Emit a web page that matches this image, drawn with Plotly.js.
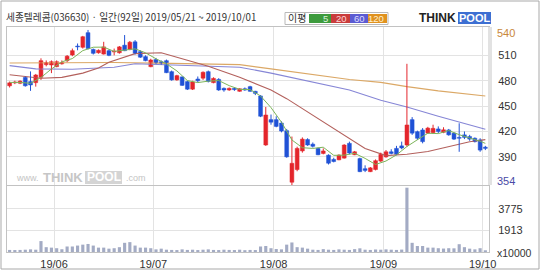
<!DOCTYPE html>
<html><head><meta charset="utf-8">
<script src="https://cdn.plot.ly/plotly-3.0.1.min.js"></script>
<style>html,body{margin:0;padding:0;background:#fff;overflow:hidden}#chart{width:540px;height:270px}</style>
</head><body><div id="chart"></div>
<script>
const titleText = '세종텔레콤(036630) · 일간(92일) 2019/05/21 ~ 2019/10/01';
const monthLabels = ['19/06','19/07','19/08','19/09','19/10'];
const monthStartIdx = [9, 28, 51, 72, 91];
const priceTicks = [390, 420, 450, 480, 510];
const volTicks = [1913, 3775];
const maxPrice = 540, minPrice = 354;
const legendLabels = ['5','20','60','120'];

const openP = [474,477.5,477,484,479,477.7,484,499,498.6,496.6,
500,503.7,510.4,521,519.5,536.8,517,513,511.5,515.5,
514,513,522,517,526,514.4,508.5,496.6,505,502.5,
503.7,490.7,481,484.5,479,470,482,483,490.7,477.7,
481.5,471,469,471,467.5,470.5,473,467.5,462,404,
434,434,430,421,360,375,397,410.5,405,400,
394,392,387,386.5,388.5,406,392.5,388,376,372.5,
375,385,390,396,400,403,404,434,419.8,421.8,
418,418.6,423,419,421.8,418,413,416,414,412,
410,401.5];
const closeP = [477.5,478.5,479.5,474,475,486.8,503.7,501.4,502.5,502.5,
501.5,509,515.5,520,532,518,512.4,516,520,510,
515,520,515.5,525.5,512.4,507.8,503.7,504.5,501,500.6,
489.5,481,486,474.5,470,478.5,480,490,479,482.8,
469,469,471,469.5,470.5,469,467.5,465,438,439.5,
431,426,420.5,390,382.4,400,411,404,402.5,392.5,
397,382.5,384.5,392,404,394.5,396,372.5,374,377,
385.5,393,396,394,393,400.5,427.7,418,412,408,
424,423.7,420,422,416,411,412,413,411,408,
398,400];
const highP = [479,480,480.5,485,491,488,506.5,504,504,504,
504,510.4,518,524,533,540,518,517,526,517,
518,521,534,527,528,516,510,506,507,504,
505,492,487,485,480,480,485,491,492,484,
483,472,472,472,471,472,474,468,463,449,
440,438,432,423,414,402,413,412,407,401,
400,393,389,393,405,408,397,389,380,378,
387,395,398,399,403,408,500,437,421,424,
425.5,428,426,425,423,419,429.7,420,416,413,
412,403];
const lowP = [472,476,476,473,468,473,481,497,489,496,
499,502,509,516,518,517,511,512,511,509,
510,512,515,516,511,507,503,496,500,499,
489,480,480,474,469,469,478,481,478,477,
468,467,468,468,467,468,467,463,437,403,
428,425,419,389,354,373,395,403,401,392,
393,381,383.5,386,388,393,392,372,372,372,
374,384,389,393,392,399,402,416,410,406,
417,417,418,418,415,410,396,411,409,407,
396,398];
const volume = [180,170,180,200,230,200,950,420,380,330,
240,480,480,560,640,700,560,380,380,290,
330,420,800,860,560,380,380,330,230,290,
200,180,170,230,180,200,170,200,230,180,
170,200,180,170,200,160,180,170,480,520,
330,260,230,640,830,420,380,290,200,180,
250,200,180,230,200,180,250,320,200,180,
220,200,230,200,180,210,5600,800,520,520,
380,380,330,300,330,320,680,420,290,230,
330,150];

const ma5Idx = [0,2,4,6,8,10,12,14,16,18,20,22,24,26,28,30,32,34,36,38,40,42,44,46,48,50,52,54,56,58,60,62,64,66,68,70,72,74,76,78,80,82,84,86,88,90,91];
const ma5Val = [478,478,476.9,483.8,493.9,502.3,506.2,515.6,519.6,519.7,514.7,516.1,517.7,513,505.9,499.9,491.6,480.2,477.8,479.5,480.2,474.2,469.8,469.5,462,448.2,431,410,400.8,400,401.4,391.8,392,394.2,388.2,381,385.1,392.3,402.2,410.2,417.9,417.5,421.1,416.2,412.6,408.4,406];
const ma20Idx = [0,6,10,14,17,19,24,29,34,38,44,50,53,56,60,64,68,72,76,80,84,88,91];
const ma20Val = [487,483,484,489,495,501.8,512,513,504.2,497.2,484,469,458.8,447,430.8,415,399.8,391.5,393.1,396.4,402.4,407.9,410.4];
const ma60Idx = [0,5,12,20,24,30,37,44,50,56,65,71,76,82,88,91];
const ma60Val = [497.8,494,493.5,496,500,499,498,496,489,481,469,457,449,438,428,422.6];
const ma120Idx = [0,10,20,31,37,44,50,56,65,71,76,82,91];
const ma120Val = [501,501.5,501.5,500.5,500,499,494,489,481.5,478,473,468,462];

const idx = openP.map((_, i) => i);

// split candles into rising / falling sets (built from the data arrays)
const UP = '#e4262c', DOWN = '#2052d6';
function candleSet(isUp) {
  const xs = [], base = [], h = [], wx = [], wy = [];
  idx.forEach(i => {
    const up = closeP[i] >= openP[i];
    if (up !== isUp) return;
    xs.push(i);
    base.push(Math.min(openP[i], closeP[i]));
    h.push(Math.abs(closeP[i] - openP[i]));
    wx.push(i, i, null);
    wy.push(lowP[i], highP[i], null);
  });
  return {xs, base, h, wx, wy};
}
const upSet = candleSet(true), downSet = candleSet(false);

// pixel helpers (layout only)
const L = 7, R = 489, T = 27, B = 252;
const px = x => (x - L) / (R - L);
const py = y => (B - y) / (B - T);

const FONT = 'Liberation Sans, Arial, sans-serif';
const KFONT = 'Noto Sans CJK KR, sans-serif';

const traces = [
  {type:'scatter', mode:'lines', x: ma120Idx, y: ma120Val, xaxis:'x', yaxis:'y', line:{color:'#dba866', width:1.1}, hoverinfo:'skip'},
  {type:'scatter', mode:'lines', x: ma60Idx, y: ma60Val, xaxis:'x', yaxis:'y', line:{color:'#8686d6', width:1.1}, hoverinfo:'skip'},
  {type:'scatter', mode:'lines', x: ma20Idx, y: ma20Val, xaxis:'x', yaxis:'y', line:{color:'#b3605c', width:1.1}, hoverinfo:'skip'},
  {type:'scatter', mode:'lines', x: upSet.wx, y: upSet.wy, xaxis:'x', yaxis:'y', line:{color:UP, width:1}, hoverinfo:'skip', connectgaps:false},
  {type:'scatter', mode:'lines', x: downSet.wx, y: downSet.wy, xaxis:'x', yaxis:'y', line:{color:DOWN, width:1}, hoverinfo:'skip', connectgaps:false},
  {type:'bar', x: upSet.xs, base: upSet.base, y: upSet.h, xaxis:'x', yaxis:'y', width:0.74,
   marker:{color:UP, line:{color:UP, width:0.5}}, hoverinfo:'skip'},
  {type:'bar', x: downSet.xs, base: downSet.base, y: downSet.h, xaxis:'x', yaxis:'y', width:0.74,
   marker:{color:DOWN, line:{color:DOWN, width:0.5}}, hoverinfo:'skip'},
  {type:'scatter', mode:'lines', x: ma5Idx, y: ma5Val, xaxis:'x', yaxis:'y', line:{color:'#7db55a', width:1}, hoverinfo:'skip'},
  {type:'bar', x: idx, y: volume, xaxis:'x2', yaxis:'y2', width:0.6, marker:{color:'#a3abc4', line:{width:0}}, hoverinfo:'skip'}
];

const grid = '#e3e3e3', border = '#c2c2c2';
const xr = [-0.5, 91.7];
const gridVals = monthStartIdx.map(i => i - 0.5);

const annotations = [
  {xref:'paper', yref:'paper', x:px(4), y:py(17), xanchor:'left', yanchor:'middle', showarrow:false,
   text:titleText, font:{family:KFONT, size:9.7, color:'#333'}},
  {xref:'paper', yref:'paper', x:px(297), y:py(18), xanchor:'center', yanchor:'middle', showarrow:false,
   text:'이평', font:{family:KFONT, size:10, color:'#333'}},
  {xref:'paper', yref:'paper', x:px(495), y:py(33), xanchor:'left', yanchor:'middle', showarrow:false,
   text:String(maxPrice), font:{family:FONT, size:11, color:'#c8873a'}},
  {xref:'paper', yref:'paper', x:px(495), y:py(181), xanchor:'left', yanchor:'middle', showarrow:false,
   text:String(minPrice), font:{family:FONT, size:11, color:'#4a4aa6'}},
  {xref:'paper', yref:'paper', x:px(495), y:py(253), xanchor:'left', yanchor:'middle', showarrow:false,
   text:'x10000', font:{family:FONT, size:10.5, color:'#333'}},
  // logo
  {xref:'paper', yref:'paper', x:px(458), y:py(18), xanchor:'right', yanchor:'middle', showarrow:false,
   text:'<b>THINK</b>', font:{family:FONT, size:12, color:'#222'}},
  {xref:'paper', yref:'paper', x:px(474), y:py(18), xanchor:'center', yanchor:'middle', showarrow:false,
   text:'<b>POOL</b>', font:{family:FONT, size:11, color:'#ffffff'}},
  // watermark
  {xref:'paper', yref:'paper', x:px(41), y:py(178), xanchor:'right', yanchor:'middle', showarrow:false,
   text:'www.', font:{family:FONT, size:9, color:'#c4c4c4'}},
  {xref:'paper', yref:'paper', x:px(85), y:py(177), xanchor:'right', yanchor:'middle', showarrow:false,
   text:'<b>THINK</b>', font:{family:FONT, size:13, color:'#c6c6c6'}},
  {xref:'paper', yref:'paper', x:px(104), y:py(177), xanchor:'center', yanchor:'middle', showarrow:false,
   text:'<b>POOL</b>', font:{family:FONT, size:12, color:'#ffffff'}},
  {xref:'paper', yref:'paper', x:px(124), y:py(178), xanchor:'left', yanchor:'middle', showarrow:false,
   text:'.com', font:{family:FONT, size:9, color:'#c4c4c4'}}
];

const legColors = ['#3d9b3d','#c93c3c','#5b5bd2','#e0921f'];
const legTxt = ['#d9f2d9','#ffd6d6','#dcdcff','#fff0d0'];
const legX = [[309,331],[331,350],[350,368],[368,387]];
const shapes = [
  {type:'rect', xref:'paper', yref:'paper', x0:px(1), x1:px(539), y0:py(1), y1:py(269), line:{color:'#a9a9a9', width:1}, layer:'below'},
  {type:'rect', xref:'paper', yref:'paper', x0:px(285), x1:px(388), y0:py(12.5), y1:py(24.5), line:{color:'#b8b8b8', width:1}, fillcolor:'#ffffff'},
  {type:'rect', xref:'paper', yref:'paper', x0:px(458), x1:px(491), y0:py(12), y1:py(24), line:{width:0}, fillcolor:'#3d6fd2'},
  {type:'rect', xref:'paper', yref:'paper', x0:px(85), x1:px(122), y0:py(171), y1:py(184), line:{width:0}, fillcolor:'#d4d4d4', layer:'below'},
  {type:'rect', xref:'paper', yref:'paper', x0:px(488), x1:px(492), y0:py(27), y1:py(185), line:{width:0}, fillcolor:'#e2e2e2'}
];
legendLabels.forEach((t, k) => {
  shapes.push({type:'rect', xref:'paper', yref:'paper', x0:px(legX[k][0]), x1:px(legX[k][1]), y0:py(14), y1:py(23),
    line:{width:0}, fillcolor:legColors[k]});
  annotations.push({xref:'paper', yref:'paper', x:px(legX[k][1]-1), y:py(18.5), xanchor:'right', yanchor:'middle',
    showarrow:false, text:t, font:{family:FONT, size:9.5, color:legTxt[k]}});
});

const layout = {
  width:540, height:270, margin:{l:L, r:540-R, t:T, b:270-B},
  paper_bgcolor:'#ffffff', plot_bgcolor:'#ffffff', showlegend:false, dragmode:false, barmode:'overlay',
  xaxis:{domain:[0,1], anchor:'y', range:xr, tickvals:gridVals, showticklabels:false, ticks:'',
    showgrid:true, gridcolor:grid, zeroline:false, showline:true, mirror:true, linecolor:border, fixedrange:true},
  yaxis:{domain:[0.298,1], anchor:'x', side:'right', range:[356.8,543.5], tickvals:priceTicks,
    ticktext:priceTicks.map(String), ticks:'', ticklabelstandoff:6, showgrid:true, gridcolor:grid,
    zeroline:false, showline:true, mirror:true, linecolor:border, tickfont:{family:FONT, size:11, color:'#333'}, fixedrange:true},
  xaxis2:{domain:[0,1], anchor:'y2', range:xr, tickvals:gridVals, ticktext:monthLabels, ticks:'',
    showgrid:true, gridcolor:grid, zeroline:false, showline:true, mirror:true, linecolor:border,
    tickfont:{family:FONT, size:11, color:'#333'}, ticklabelstandoff:2, fixedrange:true},
  yaxis2:{domain:[0,0.293], anchor:'x2', side:'right', range:[0,5740], tickvals:volTicks,
    ticktext:volTicks.map(String), ticks:'', ticklabelstandoff:6, showgrid:true, gridcolor:grid,
    zeroline:false, showline:true, mirror:true, linecolor:border, tickfont:{family:FONT, size:11, color:'#333'}, fixedrange:true},
  annotations: annotations, shapes: shapes
};

Plotly.newPlot('chart', traces, layout, {staticPlot:true, displayModeBar:false});
</script></body></html>
